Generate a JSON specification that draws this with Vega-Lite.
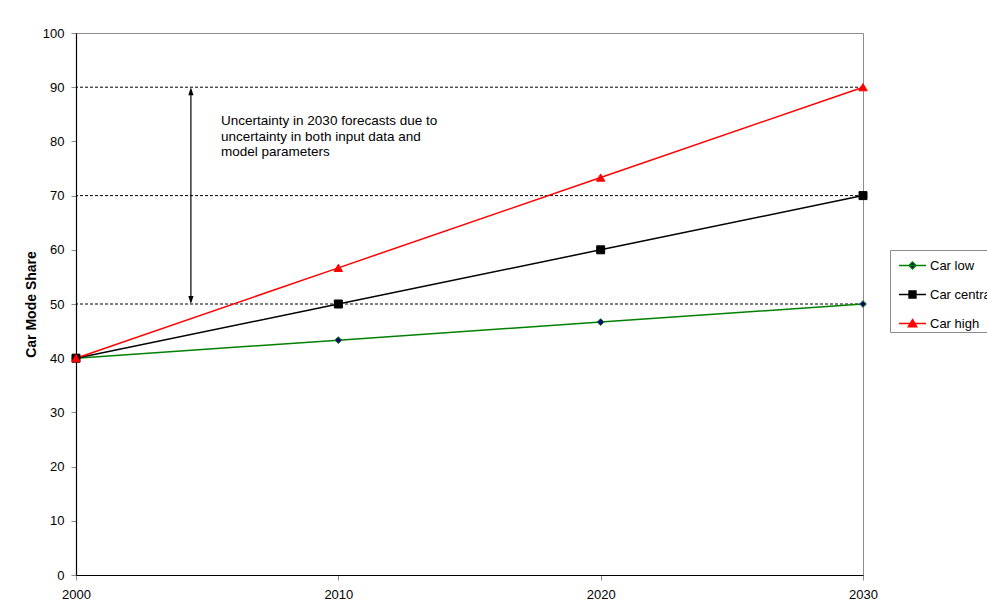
{
  "$schema": "https://vega.github.io/schema/vega-lite/v6.json",
  "width": 787,
  "height": 542,
  "autosize": {"type": "none"},
  "padding": {"left": 76, "top": 33, "right": 124, "bottom": 37},
  "background": "white",
  "config": {
    "font": "Liberation Sans",
    "view": {"stroke": "#8c8c8c", "strokeWidth": 1}
  },
  "datasets": {
    "series": [
      {"year": 2000, "share": 40, "series": "Car low"},
      {"year": 2010, "share": 43.33, "series": "Car low"},
      {"year": 2020, "share": 46.67, "series": "Car low"},
      {"year": 2030, "share": 50, "series": "Car low"},
      {"year": 2000, "share": 40, "series": "Car central"},
      {"year": 2010, "share": 50, "series": "Car central"},
      {"year": 2020, "share": 60, "series": "Car central"},
      {"year": 2030, "share": 70, "series": "Car central"},
      {"year": 2000, "share": 40, "series": "Car high"},
      {"year": 2010, "share": 56.67, "series": "Car high"},
      {"year": 2020, "share": 73.33, "series": "Car high"},
      {"year": 2030, "share": 90, "series": "Car high"}
    ],
    "levels": [{"level": 50}, {"level": 70}, {"level": 90}],
    "note": [{"label": "annotation"}]
  },
  "layer": [
    {
      "data": {"name": "levels"},
      "mark": {"type": "rule", "color": "#000000", "strokeWidth": 1, "strokeDash": [3, 2]},
      "encoding": {
        "y": {"field": "level", "type": "quantitative", "scale": {"domain": [0, 100], "nice": false, "zero": true},
          "axis": {"values": [0,10,20,30,40,50,60,70,80,90,100], "title": "Car Mode Share", "grid": false,
            "titleFont": "Liberation Sans", "titleFontSize": 14, "titleFontWeight": "bold", "titleColor": "#000000", "titlePadding": 4,
            "labelFont": "Liberation Sans", "labelFontSize": 13, "labelColor": "#000000", "labelPadding": 7,
            "domainColor": "#000000", "domainWidth": 1.2, "tickColor": "#8c8c8c", "tickSize": 5}}
      }
    },
    {
      "data": {"name": "series"},
      "mark": {"type": "line", "strokeWidth": 1.5},
      "encoding": {
        "x": {"field": "year", "type": "quantitative", "scale": {"domain": [2000, 2030], "nice": false, "zero": false},
          "axis": {"values": [2000, 2010, 2020, 2030], "format": "d", "title": null, "grid": false, "labelFlush": false,
            "labelFont": "Liberation Sans", "labelFontSize": 13, "labelColor": "#000000", "labelPadding": 8,
            "domainColor": "#000000", "domainWidth": 1.2, "tickColor": "#8c8c8c", "tickSize": 5}},
        "y": {"field": "share", "type": "quantitative"},
        "stroke": {"field": "series", "type": "nominal",
          "scale": {"domain": ["Car low", "Car central", "Car high"], "range": ["#008000", "#000000", "#ff0000"]},
          "legend": {
            "title": null,
            "orient": "none",
            "legendX": 814,
            "legendY": 217,
            "padding": 1,
            "strokeColor": "#8c8c8c",
            "fillColor": "#ffffff",
            "symbolSize": 729,
            "symbolOffset": 7,
            "labelOffset": 3,
            "rowPadding": 7,
            "labelFont": "Liberation Sans",
            "labelFontSize": 13,
            "labelColor": "#000000",
            "labelLimit": 0,
            "encode": {
              "symbols": {
                "update": {
                  "shape": {"signal": "datum.value === 'Car low' ? 'M-1,0H1M0,-0.27L0.27,0L0,0.27L-0.27,0Z' : (datum.value === 'Car central' ? 'M-1,0H1M-0.26,-0.26H0.26V0.26H-0.26Z' : 'M-1,0H1M0,-0.3L0.32,0.24H-0.32Z')"},
                  "fill": {"signal": "datum.value === 'Car low' ? '#000080' : (datum.value === 'Car central' ? '#000000' : '#ff0000')"},
                  "stroke": {"signal": "datum.value === 'Car low' ? '#008000' : (datum.value === 'Car central' ? '#000000' : '#ff0000')"},
                  "strokeWidth": {"value": 1.3},
                  "size": {"value": 729},
                  "fillOpacity": {"value": 1},
                  "opacity": {"value": 1}
                }
              }
            }
          }
        }
      }
    },
    {
      "data": {"name": "series"},
      "transform": [{"filter": "datum.series === 'Car low'"}],
      "mark": {"type": "point", "filled": true, "shape": "diamond", "size": 45, "fill": "#000080", "stroke": "#008000", "strokeWidth": 1, "opacity": 1},
      "encoding": {
        "x": {"field": "year", "type": "quantitative"},
        "y": {"field": "share", "type": "quantitative"}
      }
    },
    {
      "data": {"name": "series"},
      "transform": [{"filter": "datum.series === 'Car central'"}],
      "mark": {"type": "point", "filled": true, "shape": "square", "size": 64, "fill": "#000000", "stroke": "#000000", "strokeWidth": 1, "opacity": 1},
      "encoding": {
        "x": {"field": "year", "type": "quantitative"},
        "y": {"field": "share", "type": "quantitative"}
      }
    },
    {
      "data": {"name": "series"},
      "transform": [{"filter": "datum.series === 'Car high'"}],
      "mark": {"type": "point", "filled": true, "shape": "triangle-up", "size": 70, "fill": "#ff0000", "stroke": "#ff0000", "strokeWidth": 1, "opacity": 1},
      "encoding": {
        "x": {"field": "year", "type": "quantitative"},
        "y": {"field": "share", "type": "quantitative"}
      }
    },
    {
      "data": {"name": "note"},
      "mark": {"type": "rule", "color": "#000000", "strokeWidth": 1.2},
      "encoding": {
        "x": {"datum": 2004.38, "type": "quantitative"},
        "y": {"datum": 50.8, "type": "quantitative"},
        "y2": {"datum": 89.2}
      }
    },
    {
      "data": {"name": "note"},
      "mark": {"type": "point", "filled": true, "color": "#000000", "opacity": 1, "shape": "M0,-1L0.65,1H-0.65Z", "size": 64},
      "encoding": {
        "x": {"datum": 2004.38, "type": "quantitative"},
        "y": {"datum": 89.26, "type": "quantitative"}
      }
    },
    {
      "data": {"name": "note"},
      "mark": {"type": "point", "filled": true, "color": "#000000", "opacity": 1, "shape": "M0,1L0.65,-1H-0.65Z", "size": 64},
      "encoding": {
        "x": {"datum": 2004.38, "type": "quantitative"},
        "y": {"datum": 50.74, "type": "quantitative"}
      }
    },
    {
      "data": {"name": "note"},
      "mark": {"type": "text", "align": "left", "baseline": "alphabetic", "font": "Liberation Sans", "fontSize": 13.5, "lineHeight": 15.5, "color": "#000000",
        "text": ["Uncertainty in 2030 forecasts due to", "uncertainty in both input data and", "model parameters"]},
      "encoding": {
        "x": {"datum": 2005.53, "type": "quantitative"},
        "y": {"datum": 83.0, "type": "quantitative"}
      }
    }
  ]
}
